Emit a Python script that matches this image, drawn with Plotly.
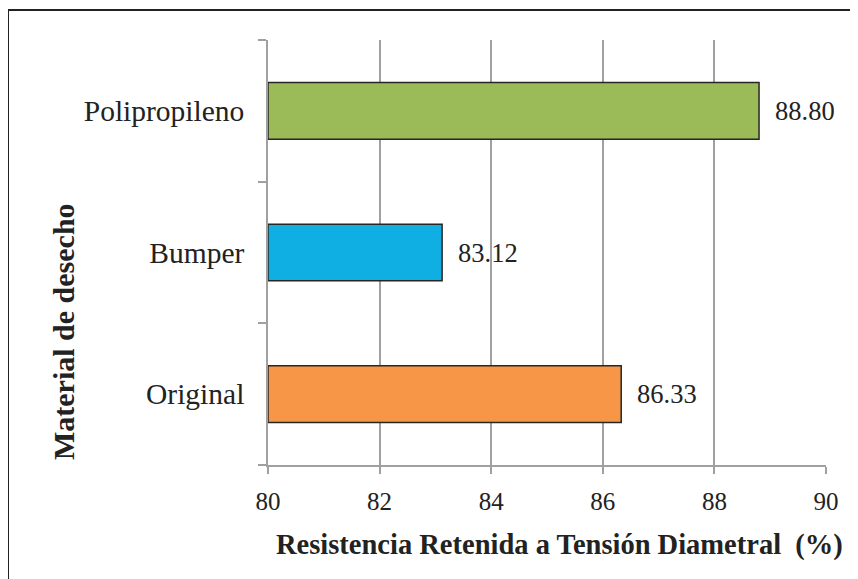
import plotly.graph_objects as go

categories = ["Original", "Bumper", "Polipropileno"]
values = [86.33, 83.12, 88.80]
labels = ["86.33", "83.12", "88.80"]
colors = ["#F79646", "#0FAEE3", "#9BBB59"]
x_ticks = [80, 82, 84, 86, 88, 90]
axis_min = 80

SERIF = "Liberation Serif, Times New Roman, serif"
W, H = 858, 579
OFF = 8  # page body margin offset
# desired screen positions of plot area
SL, SR, ST, SB = 268, 826, 40, 465
L, T = SL - OFF, ST - OFF
R = W - (SR - OFF)
B = H - (SB - OFF)
pw, ph = SR - SL, SB - ST

def px_x(x):
    return (x - SL) / pw

def px_y(y):
    return (SB - y) / ph

fig = go.Figure()
fig.add_trace(go.Bar(
    y=categories, x=[v - axis_min for v in values], base=axis_min, orientation="h",
    marker=dict(color=colors, line=dict(color="#262626", width=1.5)),
    width=0.40, hoverinfo="skip",
))

for c, v, t in zip(categories, values, labels):
    fig.add_annotation(x=v, y=c, xref="x", yref="y", text=t, showarrow=False,
                       xanchor="left", xshift=14,
                       font=dict(family=SERIF, size=26.5, color="#222"))

fig.add_annotation(x=px_x(63), y=px_y(332), xref="paper", yref="paper",
                   text="<b>Material de desecho</b>", textangle=-90, showarrow=False,
                   xanchor="center", yanchor="middle",
                   font=dict(family=SERIF, size=30, color="#222"))
fig.add_annotation(x=px_x(274), y=px_y(545), xref="paper", yref="paper",
                   text="<b>Resistencia Retenida a Tensión Diametral  (%)</b>", showarrow=False,
                   xanchor="left", yanchor="middle",
                   font=dict(family=SERIF, size=28.5, color="#222"))

fig.add_shape(type="rect", xref="paper", yref="paper",
              x0=px_x(8), x1=px_x(920), y0=px_y(640), y1=px_y(10),
              line=dict(color="#222", width=2), fillcolor="rgba(0,0,0,0)", layer="above")

fig.update_layout(
    width=W, height=H, margin=dict(l=L, r=R, t=T, b=B),
    paper_bgcolor="white", plot_bgcolor="white", showlegend=False,
    font=dict(family=SERIF, color="#222"),
    xaxis=dict(range=[80, 90], tickvals=x_ticks, ticktext=[str(v) for v in x_ticks],
               showgrid=True, gridcolor="#A0A0A0", gridwidth=1.5,
               showline=True, linecolor="#A0A0A0", linewidth=1.5,
               ticks="outside", ticklen=7, tickcolor="#A0A0A0", tickwidth=1.5,
               tickfont=dict(family=SERIF, size=25, color="#222"), zeroline=False,
               ticklabelstandoff=6),
    yaxis=dict(categoryorder="array", categoryarray=categories, tickson="boundaries",
               showgrid=False, showline=True, linecolor="#A0A0A0", linewidth=1.5,
               ticks="outside", ticklen=8, tickcolor="#A0A0A0", tickwidth=1.5,
               tickfont=dict(family=SERIF, size=29.5, color="#222"), ticklabelstandoff=16,
               range=[-0.5, 2.5]),
)

fig.write_html("out.html")
